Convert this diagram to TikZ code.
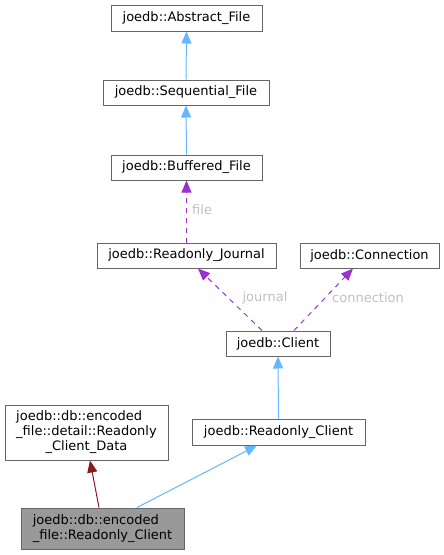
\documentclass[tikz,border=0pt]{standalone}
\usepackage{fontspec}
\setmainfont{DejaVu Sans}
\usetikzlibrary{arrows.meta,calc}
\definecolor{boxborder}{HTML}{666666}
\definecolor{boxfillg}{HTML}{999999}
\definecolor{inhblue}{HTML}{63B8FF}
\definecolor{usepurple}{HTML}{9A32CD}
\definecolor{privred}{HTML}{8B1A1A}
\definecolor{lblgray}{HTML}{C0C0C0}
\begin{document}
\begin{tikzpicture}[x=1pt,y=-1pt,
  cls/.style={draw=boxborder,line width=1pt,fill=white,inner sep=0pt,font=\fontsize{13}{15}\selectfont,text=black},
  inh/.style={draw=inhblue,line width=1pt,-{Triangle[length=12pt,width=10pt]},inhblue},
  usg/.style={draw=usepurple,line width=1pt,dash pattern=on 5pt off 5pt,-{Triangle[length=12pt,width=10pt]},usepurple},
  prv/.style={draw=privred,line width=1pt,-{Triangle[length=12pt,width=10pt]},privred},
  lbl/.style={text=lblgray,font=\fontsize{13}{15}\selectfont,inner sep=0pt}]
\useasboundingbox (0,0) rectangle (444,555);
\node[cls,minimum width=151pt,minimum height=26pt] (abs) at (186.5,18) {joedb::Abstract\_File};
\node[cls,minimum width=166pt,minimum height=25pt] (seq) at (186,92.5) {joedb::Sequential\_File};
\node[cls,minimum width=151pt,minimum height=25pt] (buf) at (186.5,167.5) {joedb::Buffered\_File};
\node[cls,minimum width=179pt,minimum height=25pt] (jou) at (186.5,255.5) {joedb::Readonly\_Journal};
\node[cls,minimum width=139pt,minimum height=25pt] (con) at (369.5,255.5) {joedb::Connection};
\node[cls,minimum width=104pt,minimum height=25pt] (cli) at (278,343.5) {joedb::Client};
\node[cls,minimum width=163pt,minimum height=55pt] (dat) at (86.5,432.5) {\begin{tabular}{@{}l@{}}joedb::db::encoded\\\_file::detail::Readonly\\\multicolumn{1}{@{}c@{}}{\_Client\_Data}\end{tabular}};
\node[cls,minimum width=173pt,minimum height=26pt] (roc) at (278.5,432) {joedb::Readonly\_Client};
\node[cls,fill=boxfillg,minimum width=163pt,minimum height=41pt] (bot) at (102.5,528.5) {\begin{tabular}{@{}l@{}}joedb::db::encoded\\\_file::Readonly\_Client\end{tabular}};
\draw[inh] (seq.north) -- (abs.south);
\draw[inh] (buf.north) -- (seq.south);
\draw[usg] (jou.north) -- (buf.south);
\draw[usg] ($(cli.north)+(-16,0)$) -- ($(jou.south)+(11.5,0)$);
\draw[usg] ($(cli.north)+(16,0)$) -- ($(con.south)+(-16.5,0)$);
\draw[inh] (roc.north) -- (cli.south);
\draw[prv] ($(bot.north)+(-3.5,0)$) -- ($(dat.south)+(3.5,0)$);
\draw[inh] ($(bot.north)+(34.5,0)$) -- ($(roc.south)+(-21.5,0)$);
\node[lbl,anchor=west] (lfile) at (192,210) {file};
\node[lbl] (ljou) at (265,298) {journal};
\node[lbl] (lcon) at (368,298) {connection};
\end{tikzpicture}
\end{document}
